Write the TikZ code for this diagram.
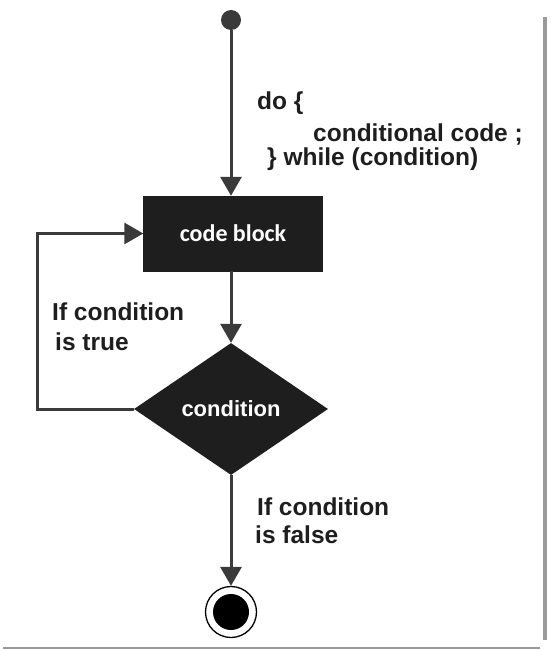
\documentclass[tikz,border=0pt]{standalone}
\usepackage{fontspec}
\setmainfont{Liberation Sans}
\newfontfamily\blockfont{Carlito}
\usetikzlibrary{shapes.geometric,arrows.meta}
\definecolor{ink}{HTML}{1E1E1E}
\definecolor{wire}{HTML}{3A3A3A}
\definecolor{frame}{HTML}{9A9A9A}
\tikzset{
  flow/.style={draw=wire, line width=3pt, -{Triangle[length=19pt,width=21pt]}},
  lbl/.style={anchor=base west, inner sep=0pt, text=ink, font=\fontsize{24.5}{28}\selectfont\bfseries},
  blockbox/.style={rectangle, fill=ink, draw=ink, minimum width=179pt, minimum height=75pt, inner sep=0pt,
     text=white, font=\blockfont\fontsize{24}{28}\selectfont\bfseries},
  decision/.style={diamond, fill=ink, aspect=1.47, minimum width=194pt, minimum height=132pt, inner sep=0pt,
     text=white, font=\fontsize{22}{26}\selectfont\bfseries},
}
\begin{document}
\begin{tikzpicture}[x=1pt,y=-1pt]
\useasboundingbox (0,0) rectangle (550,650);
% frame lines
\draw[frame, line width=4pt] (545,17) -- (545,640);
\draw[frame, line width=2.5pt] (3,648) -- (540,648);
% nodes
\node[circle, fill=wire, minimum size=20pt, inner sep=0pt] (start) at (231,20) {};
\node[blockbox] (code) at (233,233.5) {code block};
\node[decision] (cond) at (231,409) {condition};
\node[circle, draw=black, line width=1.3pt, minimum size=51pt, inner sep=0pt] (stop) at (231,612) {};
\node[circle, fill=black, minimum size=36pt, inner sep=0pt] (stopcore) at (stop.center) {};
% connectors
\draw[flow] (start) -- (start |- code.north);
\draw[flow] (code.south -| cond.north) -- (cond.north);
\draw[flow] (cond.south) -- (stop.north);
\coordinate (loopcorner) at (37,409);
\draw[flow] (cond.west) -- (loopcorner) |- (code.west);
% labels
\node[lbl] (l1) at (257,110) {do \{};
\node[lbl] (l2) at (313,141) {conditional code ;};
\node[lbl] (l3) at (267,165) {\} while (condition)};
\node[lbl] (t1) at (52,320) {If condition};
\node[lbl] (t2) at (55,350) {is true};
\node[lbl] (f1) at (257,515) {If condition};
\node[lbl] (f2) at (255,543) {is false};
\end{tikzpicture}
\end{document}
